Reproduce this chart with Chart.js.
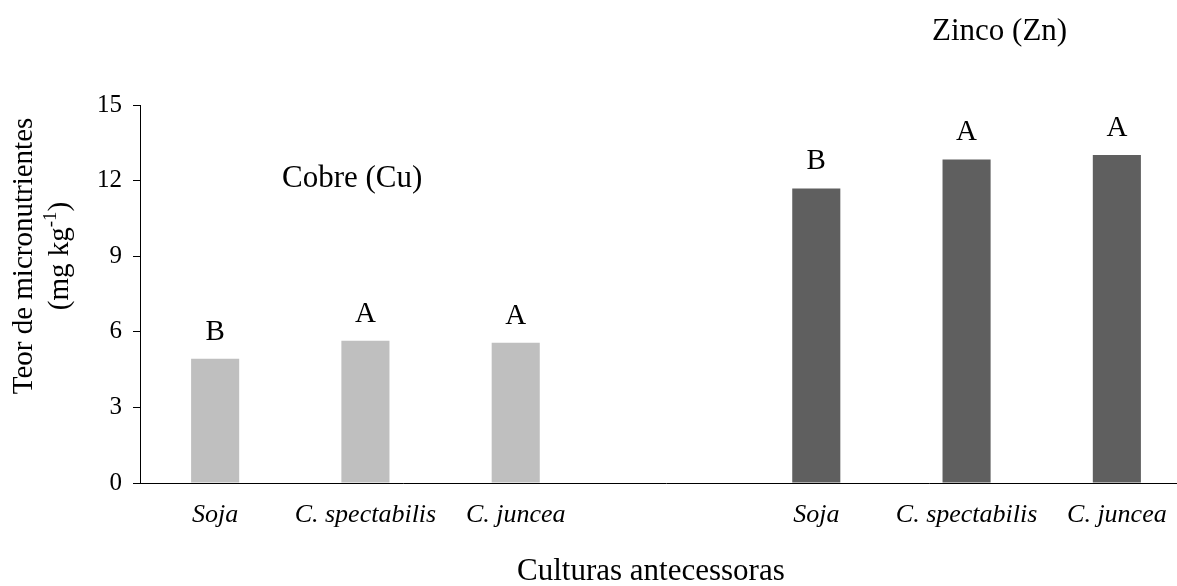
<!DOCTYPE html>
<html lang="pt-BR">
<head>
<meta charset="utf-8">
<title>Teor de micronutrientes</title>
<script src="https://cdn.jsdelivr.net/npm/chart.js@4.4.1/dist/chart.umd.min.js"></script>
<style>
    html, body { margin: 0; padding: 0; background: #ffffff; overflow: hidden; }
    #area { width: 1200px; height: 586px; }
</style>
</head>
<body>
<div id="area">
    <canvas id="graficoMicro" width="1200" height="586"></canvas>
</div>
<script>
const culturas = ['Soja', 'C. spectabilis', 'C. juncea'];
const cobre    = [4.93, 5.64, 5.57];
const zinco    = [11.69, 12.84, 13.02];
const letrasCobre = ['B', 'A', 'A'];
const letrasZinco = ['B', 'A', 'A'];
const ticksY   = [0, 3, 6, 9, 12, 15];

const fonte = "'Liberation Serif', 'Times New Roman', serif";

// cobre nas 3 primeiras categorias, uma vazia no meio, zinco nas 3 ultimas
const rotulos    = [...culturas, '', ...culturas];
const dadosCobre = [...cobre, null, null, null, null];
const dadosZinco = [null, null, null, null, ...zinco];
const letras     = [[...letrasCobre], [null, null, null, null, ...letrasZinco]];

const textosPlugin = {
    id: 'textos',
    afterDatasetsDraw(chart) {
        const ctx = chart.ctx;
        ctx.save();
        ctx.fillStyle = '#000000';

        // letras acima das barras
        ctx.font = `29px ${fonte}`;
        ctx.textAlign = 'center';
        ctx.textBaseline = 'alphabetic';
        chart.data.datasets.forEach((ds, i) => {
            chart.getDatasetMeta(i).data.forEach((barra, j) => {
                const letra = letras[i][j];
                if (ds.data[j] == null || !letra) return;
                ctx.fillText(letra, barra.x, barra.y - 19);
            });
        });

        // nomes dos elementos
        ctx.font = `31px ${fonte}`;
        ctx.textAlign = 'left';
        ctx.fillText('Cobre (Cu)', 282, 187);
        ctx.fillText('Zinco (Zn)', 932, 40);

        // titulo do eixo x
        ctx.fillText('Culturas antecessoras', 517, 580);

        // titulo do eixo y, duas linhas giradas
        const centroY = 256;
        ctx.translate(0, centroY);
        ctx.rotate(-Math.PI / 2);
        ctx.font = `29px ${fonte}`;
        ctx.textAlign = 'center';
        ctx.fillText('Teor de micronutrientes', 0, 32);

        const parte1 = '(mg kg';
        const sup    = '-1';
        const parte2 = ')';
        ctx.textAlign = 'left';
        const w1 = ctx.measureText(parte1).width;
        const w3 = ctx.measureText(parte2).width;
        ctx.font = `19px ${fonte}`;
        const w2 = ctx.measureText(sup).width;
        let x = -(w1 + w2 + w3) / 2;
        ctx.font = `29px ${fonte}`;
        ctx.fillText(parte1, x, 68);
        x += w1;
        ctx.font = `19px ${fonte}`;
        ctx.fillText(sup, x, 56);
        x += w2;
        ctx.font = `29px ${fonte}`;
        ctx.fillText(parte2, x, 68);

        ctx.restore();
    }
};

new Chart(document.getElementById('graficoMicro'), {
    type: 'bar',
    data: {
        labels: rotulos,
        datasets: [
            {
                label: 'Cobre (Cu)',
                data: dadosCobre,
                backgroundColor: '#BFBFBF',
                categoryPercentage: 1,
                barPercentage: 0.32,
            },
            {
                label: 'Zinco (Zn)',
                data: dadosZinco,
                backgroundColor: '#5F5F5F',
                categoryPercentage: 1,
                barPercentage: 0.32,
            }
        ]
    },
    options: {
        responsive: false,
        animation: false,
        layout: { padding: { top: 105, right: 8, bottom: 0, left: 0 } },
        plugins: {
            legend: { display: false },
            tooltip: { enabled: false }
        },
        datasets: { bar: { grouped: false } },
        scales: {
            x: {
                grid: { display: false },
                border: { display: true, color: '#000000', width: 1 },
                ticks: {
                    color: '#000000',
                    font: { family: fonte, size: 26, style: 'italic' },
                    padding: 9,
                    maxRotation: 0,
                    autoSkip: false
                },
                afterFit: (escala) => { escala.height = 103; }
            },
            y: {
                min: 0,
                max: 15,
                afterBuildTicks: (escala) => { escala.ticks = ticksY.map(v => ({ value: v })); },
                grid: {
                    display: true,
                    drawOnChartArea: false,
                    drawTicks: true,
                    tickLength: 7,
                    color: '#000000'
                },
                border: { display: true, color: '#000000', width: 1 },
                ticks: {
                    color: '#000000',
                    font: { family: fonte, size: 25 },
                    padding: 11
                },
                afterFit: (escala) => { escala.width = 140; }
            }
        }
    },
    plugins: [textosPlugin]
});
</script>
</body>
</html>
